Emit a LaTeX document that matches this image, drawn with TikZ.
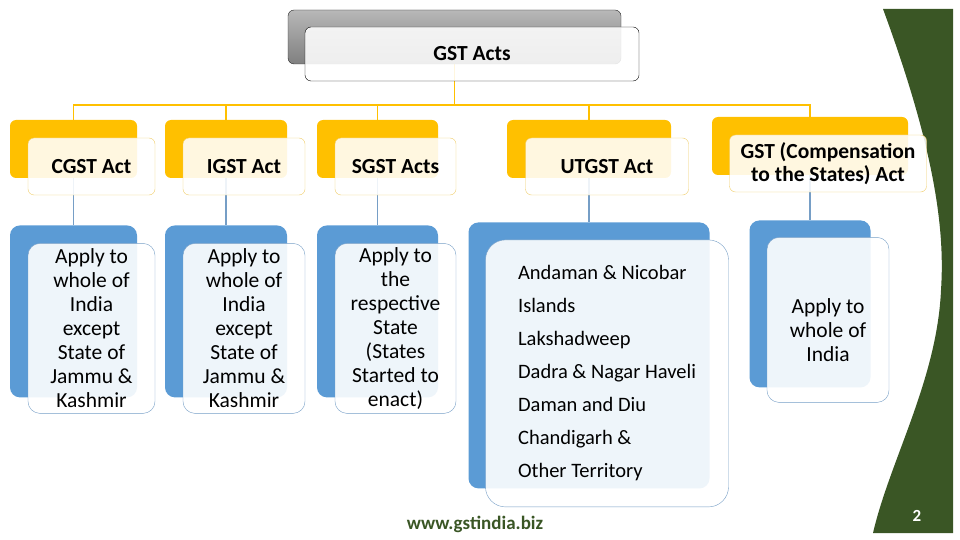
\documentclass[tikz,border=0pt]{standalone}
\usepackage{fontspec}
\setmainfont{Carlito}
\usepackage{tikz}
\usetikzlibrary{positioning,backgrounds}
\definecolor{gstyellow}{RGB}{255,192,0}
\definecolor{gstyline}{RGB}{240,205,105}
\definecolor{gstblue}{RGB}{91,155,213}
\definecolor{gstbline}{RGB}{118,158,198}
\definecolor{gstgreen}{RGB}{58,86,37}

\begin{document}
\begin{tikzpicture}[x=1pt, y=-1pt,
    yback/.style={rounded corners=6pt, fill=gstyellow, minimum height=58pt, inner sep=0pt},
    yfront/.style={draw=gstyline, rounded corners=6pt, fill=white, fill opacity=0.88,
                   text opacity=1, minimum height=57pt, inner sep=2pt, align=center,
                   font=\fontsize{21.5}{23}\selectfont\bfseries},
    bback/.style={rounded corners=10pt, fill=gstblue, inner sep=0pt},
    bfront/.style={draw=gstbline, rounded corners=12pt, fill=white, fill opacity=0.9,
                   text opacity=1, inner sep=2pt, align=center,
                   font=\fontsize{21.5}{24}\selectfont},
    yarr/.style={draw=gstyellow, line width=1.5pt},
    barr/.style={draw=gstbline, line width=1.2pt},
    node distance=47pt
  ]
    \useasboundingbox (0,0) rectangle (960,540);
    % green band on the right
    \fill[gstgreen] (883,9) -- (953,9) -- (953,533) -- (873,533)
      .. controls (890,460) and (937,380) .. (941,290)
      .. controls (945,230) and (935,150) .. (883,9) -- cycle;

    % top box
    \node[draw=black!85, rounded corners=6pt, top color=black!28, bottom color=black!50,
          minimum width=333pt, minimum height=54pt] (gstback) at (454.5,37) {};
    \node[draw=black, rounded corners=6pt, fill=white, fill opacity=0.87, text opacity=1,
          minimum width=334pt, minimum height=54pt,
          font=\fontsize{21.5}{23}\selectfont\bfseries] (gst) at (472,54) {GST Acts};

    % acts
    \node[yback, minimum width=127pt] (cgsty) at (73.5,149) {};
    \node[yback, minimum width=122pt] (igsty) at (226,149) {};
    \node[yback, minimum width=121pt] (sgsty) at (377.5,149) {};
    \node[yback, minimum width=164pt] (utgsty) at (589,149) {};
    \node[yback, minimum width=196pt] (gstcy) at (810,146) {};

    \node[yfront, minimum width=127pt] (cgst) at ([shift={(18,17.5)}]cgsty.center) {CGST Act};
    \node[yfront, minimum width=122pt] (igst) at ([shift={(18,17.5)}]igsty.center) {IGST Act};
    \node[yfront, minimum width=121pt] (sgst) at ([shift={(18,17.5)}]sgsty.center) {SGST Acts};
    \node[yfront, minimum width=163pt] (utgst) at ([shift={(18,17.5)}]utgsty.center) {UTGST Act};
    \node[yfront, minimum width=197pt] (gstc) at ([shift={(18,17.5)}]gstcy.center)
      {GST (Compensation\\to the States) Act};

    % coverage
    \node[bback, minimum width=127pt, minimum height=172pt, below=of cgsty] (cgstb) {};
    \node[bback, minimum width=122pt, minimum height=172pt, below=of igsty] (igstb) {};
    \node[bback, minimum width=121pt, minimum height=172pt, below=of sgsty] (sgstb) {};
    \node[bback, minimum width=241pt, minimum height=266pt, below=44pt of utgsty] (utgstb) {};
    \node[bback, minimum width=121pt, minimum height=167pt, below=45pt of gstcy] (gstcb) {};

    \node[bfront, minimum width=127pt, minimum height=170pt] (cgstt) at ([shift={(18,17)}]cgstb.center)
      {Apply to\\whole of\\India\\except\\State of\\Jammu \&\\Kashmir};
    \node[bfront, minimum width=122pt, minimum height=170pt] (igstt) at ([shift={(18,17)}]igstb.center)
      {Apply to\\whole of\\India\\except\\State of\\Jammu \&\\Kashmir};
    \node[bfront, minimum width=121pt, minimum height=170pt] (sgstt) at ([shift={(18,17)}]sgstb.center)
      {Apply to\\the\\respective\\State\\(States\\Started to\\enact)};
    \node[bfront, minimum width=243pt, minimum height=267pt, rounded corners=20pt, align=left,
          font=\fontsize{20.5}{33}\selectfont] (utgstt) at ([shift={(18,18)}]utgstb.center)
      {Andaman \& Nicobar\\Islands\\Lakshadweep\\Dadra \& Nagar Haveli\\Daman and Diu\\Chandigarh \&\\Other Territory};
    \node[bfront, minimum width=122pt, minimum height=165pt] (gstct) at ([shift={(18,16)}]gstcb.center)
      {\rule{0pt}{36pt}Apply to\\whole of\\India};

    % connectors
    \begin{scope}[on background layer]
      \draw[yarr] (gstback.south) -- ++(0,41) -| (cgsty.north);
      \draw[yarr] (gstback.south) -- ++(0,41) -| (igsty.north);
      \draw[yarr] (gstback.south) -- ++(0,41) -| (sgsty.north);
      \draw[yarr] (gstback.south) -- ++(0,41) -| (utgsty.north);
      \draw[yarr] (gstback.south) -- ++(0,41) -| (gstcy.north);
      \draw[barr] (cgsty.south) -- (cgstb.north);
      \draw[barr] (igsty.south) -- (igstb.north);
      \draw[barr] (sgsty.south) -- (sgstb.north);
      \draw[barr] (utgsty.south) -- (utgstb.north);
      \draw[barr] (gstcy.south) -- (gstcb.north);
    \end{scope}

    \node[text=gstgreen, font=\fontsize{19}{22}\selectfont\bfseries] (site) at (475,524) {www.gstindia.biz};
    \node[text=white, font=\fontsize{17}{20}\selectfont\bfseries] (pagenum) at (917,516) {2};
\end{tikzpicture}
\end{document}
